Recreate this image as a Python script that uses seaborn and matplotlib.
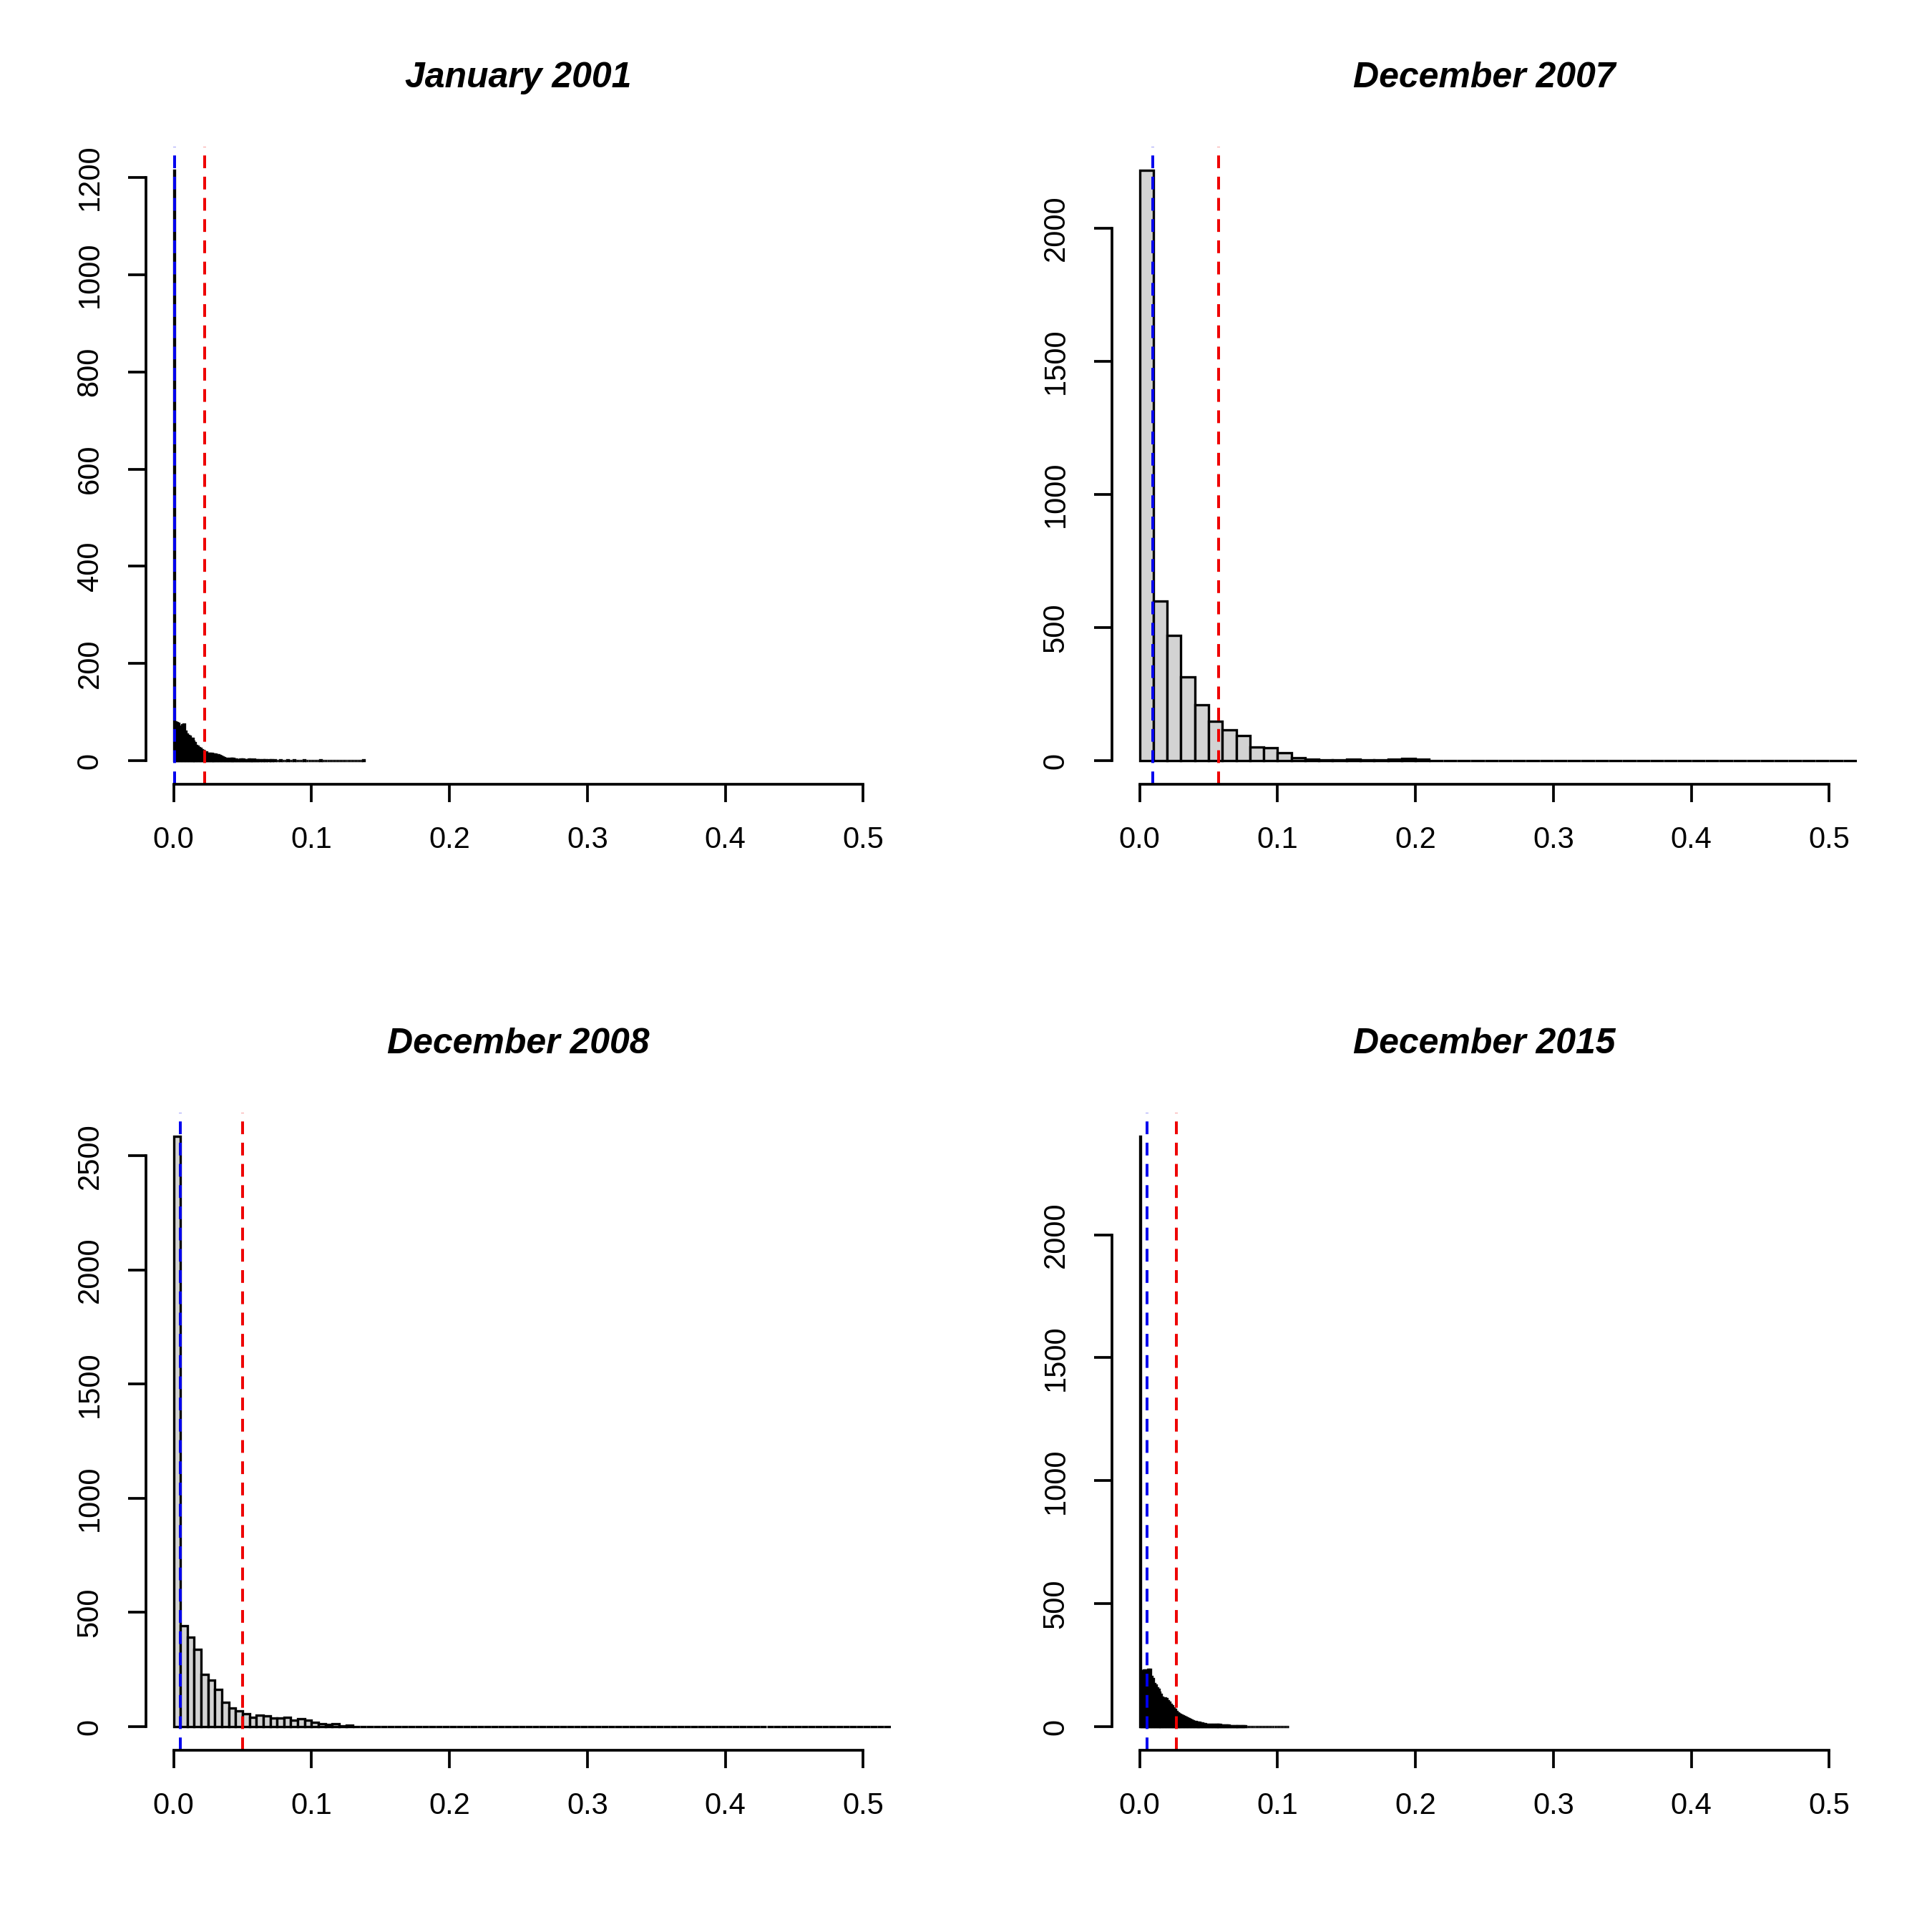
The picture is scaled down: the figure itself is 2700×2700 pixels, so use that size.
import pandas as pd
import seaborn as sns
import matplotlib.pyplot as plt

sns.set_style("white")
plt.rcParams['font.family'] = ['Liberation Sans', 'DejaVu Sans']
plt.rcParams['text.color'] = 'black'

titles = ['January 2001', 'December 2007', 'December 2008', 'December 2015']

# hist() bin width of each month
widths = [0.001, 0.01, 0.005, 0.001]

# bin counts, from 0 upwards
jan2001 = [1215, 80, 78, 76, 70, 66, 74, 75, 60, 55, 52, 50, 46, 45, 40, 37, 31, 29,
           27, 25, 22, 20, 18, 17, 15, 15, 15, 14, 13, 13, 13, 12, 12, 11, 9, 8,
           6, 5, 4, 3, 4, 4, 5, 4, 3, 3, 2, 2, 3, 3, 3, 2, 2, 1, 3, 3, 1, 1, 3, 2,
           1, 1, 1, 0, 1, 1, 1, 0, 1, 0, 2, 1,
           0, 1, 0, 0, 0, 1, 0, 0, 0, 0,
           1, 0, 0, 0, 0, 1, 0, 0, 0, 0,
           0, 0, 1, 0, 0, 0, 0, 0, 0, 0,
           0, 0, 0, 0, 1, 0, 0, 0, 0, 0,
           0, 0, 0, 0, 0, 0, 0, 0, 0, 0,
           0, 0, 0, 0, 0, 0, 0, 0, 0, 0,
           0, 0, 0, 0, 0, 1]
dec2007 = [2218, 600, 470, 314, 210, 147, 115, 95, 52, 49, 29, 11, 5, 3, 4, 6, 2,
           3, 6, 7, 5] + [0] * 32
dec2008 = [2586, 441, 392, 340, 228, 204, 163, 107, 80, 69, 57, 42, 49, 46, 38, 38,
           42, 27, 36, 28, 19, 13, 9, 13, 4, 5] + [0] * 79
dec2015 = [2400, 228, 226, 229, 230, 228, 234, 232, 205, 195, 175, 168, 156, 150,
           140, 130, 120, 113, 115, 114, 106, 100, 90, 83, 75, 69, 62, 55, 51, 49,
           46, 44, 41, 39, 35, 33, 30, 27, 23, 21, 20, 18, 17, 17, 16, 14, 12, 11,
           10, 10, 9, 9, 8, 8, 8, 8, 9, 9, 8, 7, 6, 6, 6, 5, 5, 4, 4, 3, 3, 3, 3, 2,
           2, 2, 2, 2, 2, 1, 1, 1, 1, 1,
           1, 1, 1, 1, 0, 1, 1, 1, 0, 1,
           1, 0, 1, 0, 0, 1, 0, 1, 0, 0,
           1, 0, 0, 0, 0, 1]
counts = [jan2001, dec2007, dec2008, dec2015]

medians = [0.001, 0.0097, 0.0048, 0.0054]   # blue lines
means = [0.0223, 0.0573, 0.050, 0.0266]     # red lines

yticks = [[0, 200, 400, 600, 800, 1000, 1200],
          [0, 500, 1000, 1500, 2000],
          [0, 500, 1000, 1500, 2000, 2500],
          [0, 500, 1000, 1500, 2000]]
xticks = [0.0, 0.1, 0.2, 0.3, 0.4, 0.5]

fig = plt.figure(figsize=(9, 9), dpi=300)
W = H = 2700
boxes = [(204, 205), (1554, 205), (204, 1555), (1554, 1555)]

for i in range(4):
    left, top = boxes[i]
    ax = fig.add_axes([left / W, 1 - (top + 891) / H, 1041 / W, 891 / H])
    n = len(counts[i])
    edges = [k * widths[i] for k in range(n + 1)]
    df = pd.DataFrame({'x': [(edges[k] + edges[k + 1]) / 2 for k in range(n)],
                       'n': counts[i]})
    sns.histplot(data=df, x='x', weights='n', bins=edges, ax=ax, color='lightgray',
                 edgecolor='black', linewidth=0.8, alpha=1)
    ax.axvline(medians[i], color='#0000ee', lw=0.95, dashes=(4.5, 3))
    ax.axvline(means[i], color='#ee0000', lw=0.95, dashes=(4.5, 3))

    ymax = max(counts[i])
    ax.set_xlim(-0.02, 0.52)
    ax.set_ylim(-0.04 * ymax, 1.04 * ymax)
    ax.set_xticks(xticks)
    ax.set_xticklabels(['%.1f' % v for v in xticks])
    ax.set_yticks(yticks[i])
    ax.set_xlabel('')
    ax.set_ylabel('')
    for s in ['top', 'right']:
        ax.spines[s].set_visible(False)
    ax.spines['left'].set_bounds(0, yticks[i][-1])
    ax.spines['bottom'].set_bounds(0, 0.5)
    for s in ['left', 'bottom']:
        ax.spines[s].set_linewidth(0.9)
        ax.spines[s].set_color('black')
    ax.tick_params(length=6, width=0.9, pad=8, labelsize=10, colors='black',
                   left=True, bottom=True)
    ax.tick_params(axis='y', labelrotation=90)
    for lab in ax.get_yticklabels():
        lab.set_va('center')
    ax.set_title(titles[i], fontsize=12, fontweight='bold', fontstyle='italic',
                 color='black', pad=20)

fig.savefig('out.png', dpi=300, facecolor='white')
